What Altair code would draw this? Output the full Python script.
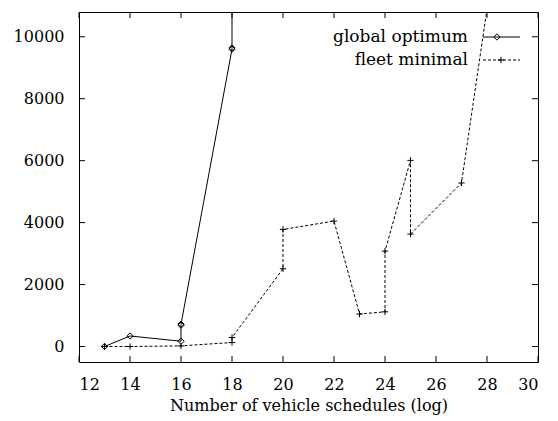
import altair as alt
import pandas as pd

# Data
series_names = ["global optimum", "fleet minimal"]

go_x = [13, 14, 16, 16, 16, 18, 18, 18]
go_y = [0, 340, 170, 690, 720, 9600, 9640, 13000]

fm_x = [13, 14, 16, 18, 18, 20, 20, 22, 23, 24, 24, 25, 25, 27, 28]
fm_y = [0, 0, 20, 130, 290, 2510, 3780, 4050, 1050, 1120, 3080, 6010, 3630, 5280, 10900]

x_ticks = [12, 14, 16, 18, 20, 22, 24, 26, 28, 30]
y_ticks = [0, 2000, 4000, 6000, 8000, 10000]

X_DOMAIN = [12, 30]
Y_DOMAIN = [-500, 10800]
W, H = 459, 350
FONT = "DejaVu Serif"

go = pd.DataFrame({"x": go_x, "y": go_y, "i": range(len(go_x))})
fm = pd.DataFrame({"x": fm_x, "y": fm_y, "i": range(len(fm_x))})
xt = pd.DataFrame({"x": x_ticks})
yt = pd.DataFrame({"y": y_ticks})

xs = alt.Scale(domain=X_DOMAIN, nice=False, zero=False)
ys = alt.Scale(domain=Y_DOMAIN, nice=False, zero=False)

xaxis = alt.Axis(values=x_ticks, ticks=False, tickSize=0, domain=False, grid=False, format="d",
                 labelFont=FONT, labelFontSize=16, labelColor="black", labelPadding=14,
                 title="Number of vehicle schedules (log)", titleFont=FONT, titleFontSize=16,
                 titleFontWeight="normal", titleColor="black", titlePadding=5)
yaxis = alt.Axis(values=y_ticks, ticks=False, tickSize=0, domain=False, grid=False, format="d",
                 labelFont=FONT, labelFontSize=16, labelColor="black", labelPadding=15,
                 title=None)

plus_path = "M-1,0H1M0,-1V1"

go_line = alt.Chart(go).mark_line(color="black", strokeWidth=1, clip=True).encode(
    x=alt.X("x:Q", scale=xs, axis=xaxis),
    y=alt.Y("y:Q", scale=ys, axis=yaxis),
    order="i:Q",
)
go_pts = alt.Chart(go).mark_point(shape="diamond", filled=False, color="black",
                                  strokeWidth=1, size=40, clip=True, opacity=1).encode(
    x=alt.X("x:Q", scale=xs), y=alt.Y("y:Q", scale=ys))

fm_line = alt.Chart(fm).mark_line(color="black", strokeWidth=1, strokeDash=[3, 2], clip=True).encode(
    x=alt.X("x:Q", scale=xs), y=alt.Y("y:Q", scale=ys), order="i:Q")
fm_pts = alt.Chart(fm).mark_point(shape=plus_path, filled=False, color="black",
                                  strokeWidth=1, size=40, clip=True, opacity=1).encode(
    x=alt.X("x:Q", scale=xs), y=alt.Y("y:Q", scale=ys))

# inward ticks on all four sides (gnuplot style)
tl = 6
xt_bot = alt.Chart(xt).mark_rule(color="black", strokeWidth=1).encode(
    x=alt.X("x:Q", scale=xs), y=alt.value(H - tl), y2=alt.value(H))
xt_top = alt.Chart(xt).mark_rule(color="black", strokeWidth=1).encode(
    x=alt.X("x:Q", scale=xs), y=alt.value(0), y2=alt.value(tl))
yt_l = alt.Chart(yt).mark_rule(color="black", strokeWidth=1).encode(
    y=alt.Y("y:Q", scale=ys), x=alt.value(0), x2=alt.value(tl))
yt_r = alt.Chart(yt).mark_rule(color="black", strokeWidth=1).encode(
    y=alt.Y("y:Q", scale=ys), x=alt.value(W - tl), x2=alt.value(W))

# legend (gnuplot style: text right-aligned, sample on the right)
leg_y = [25, 48]
def one(name):
    return alt.Chart(pd.DataFrame({"name": [name]}))

leg1_txt = one(series_names[0]).mark_text(
    align="right", baseline="middle", font=FONT, fontSize=17, color="black").encode(
    text="name:N", x=alt.value(389), y=alt.value(leg_y[0]))
leg2_txt = one(series_names[1]).mark_text(
    align="right", baseline="middle", font=FONT, fontSize=17, color="black").encode(
    text="name:N", x=alt.value(389), y=alt.value(leg_y[1]))
leg1_line = one(series_names[0]).mark_rule(color="black", strokeWidth=1).encode(
    x=alt.value(404), x2=alt.value(441), y=alt.value(leg_y[0]))
leg2_line = one(series_names[1]).mark_rule(color="black", strokeWidth=1, strokeDash=[3, 2]).encode(
    x=alt.value(404), x2=alt.value(441), y=alt.value(leg_y[1]))
leg1_pt = one(series_names[0]).mark_point(
    shape="diamond", filled=False, color="black", strokeWidth=1, size=40, opacity=1).encode(
    x=alt.value(418), y=alt.value(leg_y[0]))
leg2_pt = one(series_names[1]).mark_point(
    shape=plus_path, filled=False, color="black", strokeWidth=1, size=40, opacity=1).encode(
    x=alt.value(422), y=alt.value(leg_y[1]))

chart = alt.layer(
    go_line, go_pts, fm_line, fm_pts, xt_bot, xt_top, yt_l, yt_r,
    leg1_txt, leg2_txt, leg1_line, leg2_line, leg1_pt, leg2_pt,
).properties(
    width=W, height=H,
    padding={"left": 71, "top": 4, "right": 10, "bottom": 55},
    autosize=alt.AutoSizeParams(type="none"),
    background="white",
).configure_view(stroke="black", strokeWidth=1)

chart.save("out.html", embed_options={"renderer": "svg", "actions": False})
